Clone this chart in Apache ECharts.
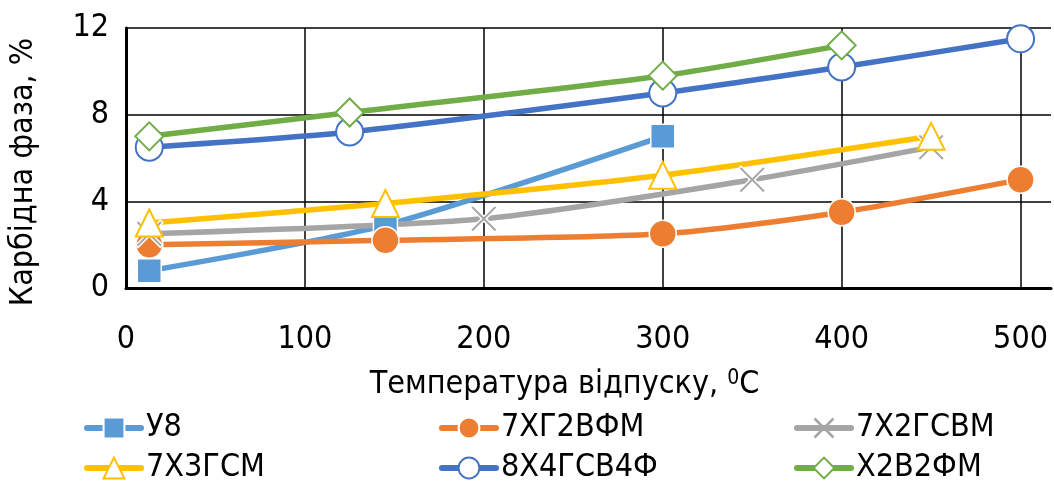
<!DOCTYPE html>
<html>
<head>
<meta charset="utf-8">
<script src="https://cdn.jsdelivr.net/npm/echarts@6/dist/echarts.min.js"></script>
<style>
html,body{margin:0;padding:0;background:#fff;}
#chart{width:1054px;height:484px;}
</style>
</head>
<body>
<div id="chart"></div>
<script>
// ---- data ----
const seriesNames = ['У8', '7ХГ2ВФМ', '7Х2ГСВМ', '7Х3ГСМ', '8Х4ГСВ4Ф', 'Х2В2ФМ'];
const u8X = [13, 145, 300];
const u8Y = [0.8, 2.9, 7.0];
const xg2X = [13, 145, 300, 400, 500];
const xg2Y = [2.0, 2.2, 2.5, 3.5, 5.0];
const x2gX = [13, 200, 350, 450];
const x2gY = [2.5, 3.2, 5.0, 6.5];
const x3gX = [13, 145, 300, 450];
const x3gY = [3.0, 3.9, 5.2, 7.0];
const x4gX = [13, 125, 300, 400, 500];
const x4gY = [6.5, 7.2, 9.0, 10.2, 11.5];
const x2vX = [13, 125, 300, 400];
const x2vY = [7.0, 8.1, 9.8, 11.2];
const xTickLabels = [0, 100, 200, 300, 400, 500];
const yTickLabels = [0, 4, 8, 12];

const FONT = 'DejaVu Sans Condensed, sans-serif';
const FS = 32;
const pairs = (xs, ys) => xs.map((x, i) => [x, ys[i]]);
const crossPath = 'path://M0,9 L9,0 L50,41 L91,0 L100,9 L59,50 L100,91 L91,100 L50,59 L9,100 L0,91 L41,50 Z';

const styles = [
  {color: '#5B9BD5', symbol: 'rect', size: 24, fill: '#5B9BD5', border: '#ffffff', bw: 1.5},
  {color: '#ED7D31', symbol: 'circle', size: 27, fill: '#ED7D31', border: '#ffffff', bw: 1.5},
  {color: '#A5A5A5', symbol: crossPath, size: 27, fill: '#A5A5A5', border: '#ffffff', bw: 1.5},
  {color: '#FFC000', symbol: 'triangle', size: 27, fill: '#ffffff', border: '#FFC000', bw: 2},
  {color: '#4472C4', symbol: 'circle', size: 27, fill: '#ffffff', border: '#4472C4', bw: 2},
  {color: '#70AD47', symbol: 'diamond', size: 28, fill: '#ffffff', border: '#70AD47', bw: 2}
];
const dataSets = [pairs(u8X, u8Y), pairs(xg2X, xg2Y), pairs(x2gX, x2gY), pairs(x3gX, x3gY), pairs(x4gX, x4gY), pairs(x2vX, x2vY)];

const series = seriesNames.map((name, i) => ({
  name: name,
  type: 'line',
  data: dataSets[i],
  smooth: 0.25,
  symbol: styles[i].symbol,
  symbolSize: styles[i].size,
  showAllSymbol: true,
  lineStyle: {color: styles[i].color, width: 5.5},
  itemStyle: {color: styles[i].fill, borderColor: styles[i].border, borderWidth: styles[i].bw},
  emphasis: {disabled: true},
  animation: false
}));

const legendLeft = [84, 439, 794];
const legendTop = [412, 452];
const legends = seriesNames.map((name, i) => ({
  data: [name],
  left: legendLeft[i % 3],
  top: legendTop[Math.floor(i / 3)],
  itemWidth: 54,
  itemHeight: 26,
  itemGap: 0,
  padding: 0,
  lineStyle: {width: 6, cap: 'round'},
  itemStyle: (i === 2) ? {color: '#A5A5A5', borderWidth: 0} : {},
  textStyle: {fontFamily: FONT, fontSize: FS, color: '#000'},
  selectedMode: false
}));

const chart = echarts.init(document.getElementById('chart'), null, {renderer: 'canvas'});
chart.setOption({
  animation: false,
  backgroundColor: '#fff',
  grid: {left: 125, right: 0, top: 28, bottom: 196, containLabel: false},
  legend: legends,
  xAxis: {
    type: 'value',
    min: 0, max: 517, interval: 100,
    name: '{a|Температура відпуску, }{s|0}{a|C}',
    nameLocation: 'middle',
    nameGap: 80,
    nameTextStyle: {
      padding: [0, 48, 0, 0],
      rich: {
        a: {fontFamily: FONT, fontSize: FS, color: '#000'},
        s: {fontFamily: FONT, fontSize: 21, color: '#000', verticalAlign: 'top', padding: [0, 0, 13, 0]}
      }
    },
    axisLine: {show: true, lineStyle: {color: '#000', width: 3}},
    axisTick: {show: false},
    axisLabel: {
      margin: 36,
      fontFamily: FONT, fontSize: FS, color: '#000',
      formatter: v => (xTickLabels.indexOf(v) >= 0 ? String(v) : '')
    },
    splitLine: {show: true, showMaxLine: false, lineStyle: {color: '#000', width: 1.5}}
  },
  yAxis: {
    type: 'value',
    min: 0, max: 12, interval: 4,
    name: 'Карбідна фаза, %',
    nameLocation: 'middle',
    nameGap: 86,
    nameTextStyle: {fontFamily: FONT, fontSize: FS, color: '#000', padding: [0, 28, 0, 0]},
    axisLine: {show: true, lineStyle: {color: '#000', width: 3}},
    axisTick: {show: false},
    axisLabel: {
      margin: 17,
      fontFamily: FONT, fontSize: FS, color: '#000',
      formatter: v => (yTickLabels.indexOf(v) >= 0 ? String(v) : '')
    },
    splitLine: {show: true, lineStyle: {color: '#000', width: 1.5}}
  },
  series: series
});
</script>
</body>
</html>
